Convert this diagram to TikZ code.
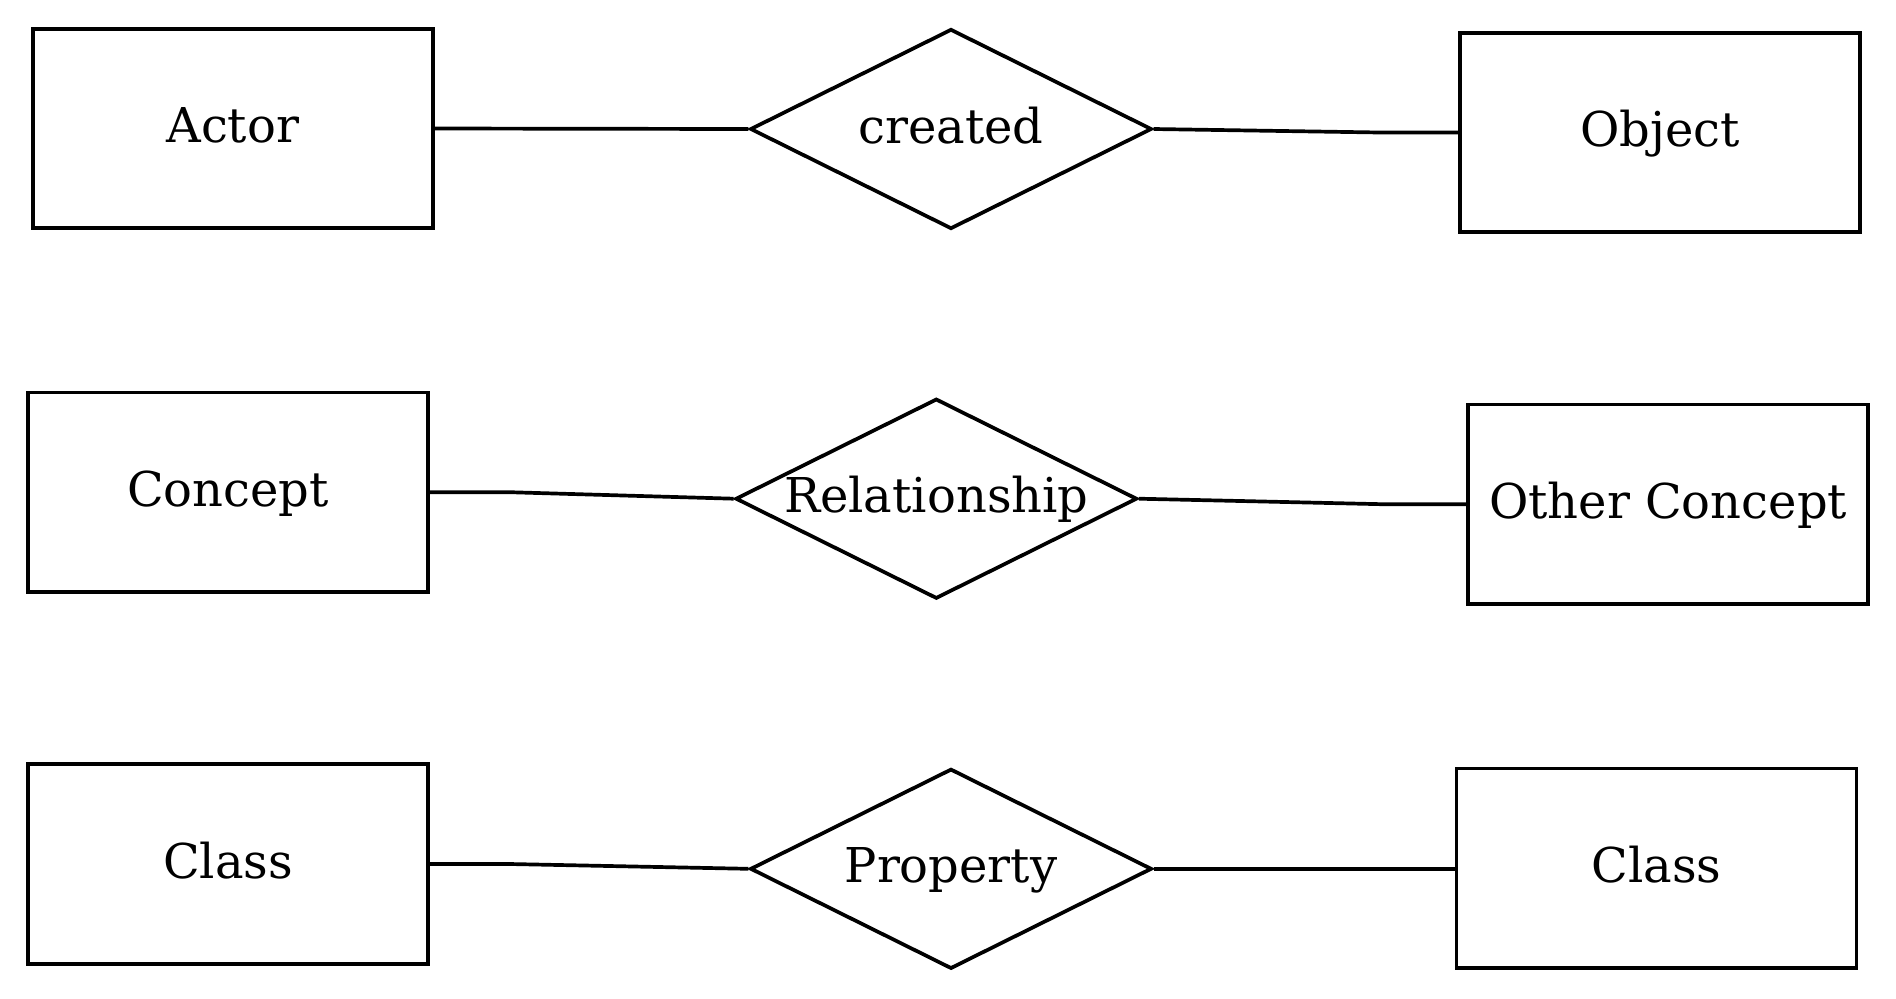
\documentclass[tikz,border=0pt]{standalone}
\usepackage{fontspec}
\setmainfont{DejaVu Serif}
\usetikzlibrary{shapes.geometric,calc}
\begin{document}
\begin{tikzpicture}[x=0.5pt,y=-0.5pt,
  lbl/.style={font=\fontsize{24}{29}\selectfont,text height=19pt,text depth=5pt},
  ent/.style={draw,line width=1.85pt,rectangle,minimum width=200pt,minimum height=99.7pt,inner sep=0pt,lbl},
  relshape/.style={draw,line width=1.85pt,diamond,aspect=2,minimum width=200.8pt,minimum height=100pt,inner sep=0pt,lbl},
  link/.style={line width=1.85pt}]
\useasboundingbox (0,0) rectangle (1896,998);
% row 1
\node[ent] (actor) at (232.8,128.5) {Actor};
\node[relshape] (created) at (951,129) {\makebox[0pt]{created}};
\node[ent] (object) at (1660.3,132.4) {Object};
% row 2
\node[ent] (concept) at (228,492.2) {Concept};
\node[relshape] (relationship) at (936.3,498.7) {\makebox[0pt]{Relationship}};
\node[ent] (other) at (1668.1,504.2) {Other Concept};
% row 3
\node[ent] (class1) at (228,864) {Class};
\node[relshape] (property) at (951,868.8) {\makebox[0pt]{Property}};
\node[ent] (class2) at (1656.5,868.2) {Class};
% connectors
\draw[link] (actor.east) -- (created.west);
\draw[link] (created.east) -- ($(object.west)+(-85,0)$) -- (object.west);
\draw[link] (concept.east) -- ++(80,0) -- (relationship.west);
\draw[link] (relationship.east) -- ($(other.west)+(-84,0)$) -- (other.west);
\draw[link] (class1.east) -- ++(80,0) -- (property.west);
\draw[link] (property.east) -- (property.east -| class2.west);
\end{tikzpicture}
\end{document}
